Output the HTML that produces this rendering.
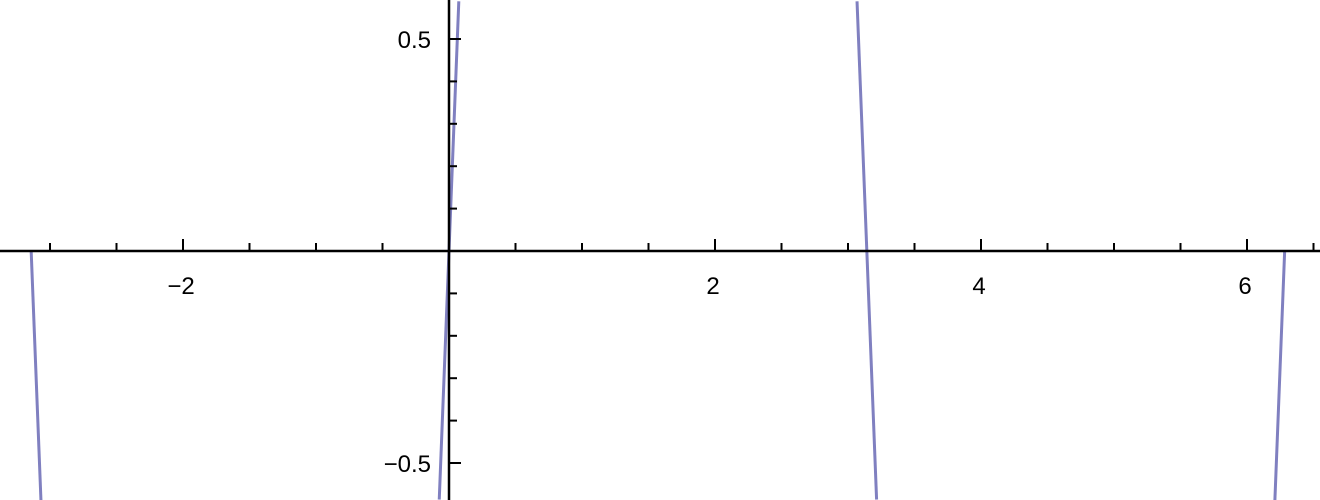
<!DOCTYPE html>
<html><head><meta charset="utf-8"><style>
html,body{margin:0;padding:0;background:#fff;}
svg{display:block;font-family:"Liberation Sans",sans-serif;}
</style></head><body>
<svg id="chart" width="1320" height="500" viewBox="0 0 1320 500">
<rect width="1320" height="500" fill="#fff"/>
<g id="curve-layer"></g>
<g id="axes"></g>
</svg>
<script>
const amplitude = [8];
const xDomain = [-Math.PI, 2 * Math.PI];
const yDomain = [-0.59, 0.59];
const xMajorTicks = [-2, 2, 4, 6];
const xTickLabels = ["\u22122", "2", "4", "6"];
const yMajorTicks = [0.5, -0.5];
const yTickLabels = ["0.5", "\u22120.5"];

const X0 = 449, XS = 133, Y0 = 251, YS = 424;
const sx = v => X0 + v * XS;
const sy = v => Y0 - v * YS;
const ns = "http://www.w3.org/2000/svg";
function mk(tag, attrs, parent) {
  const e = document.createElementNS(ns, tag);
  for (const k in attrs) e.setAttribute(k, attrs[k]);
  parent.appendChild(e);
  return e;
}
const curveLayer = document.getElementById('curve-layer');
const axes = document.getElementById('axes');

let segs = [], cur = [];
for (let i = 0; i <= 20000; i++) {
  const x = xDomain[0] + (xDomain[1] - xDomain[0]) * i / 20000;
  const y = amplitude[0] * Math.sin(x);
  if (y >= yDomain[0] && y <= yDomain[1]) cur.push(sx(x).toFixed(2) + "," + sy(y).toFixed(2));
  else if (cur.length) { segs.push(cur); cur = []; }
}
if (cur.length) segs.push(cur);
segs.forEach((s, i) => {
  const p = mk('polyline', {points: s.join(' '), fill: 'none', stroke: '#8080c0', 'stroke-width': 3}, curveLayer);
  
  
});

const xa = mk('line', {x1: 0, x2: 1320, y1: Y0, y2: Y0, stroke: '#000', 'stroke-width': 2.5}, axes);


const ya = mk('line', {x1: X0, x2: X0, y1: 0, y2: 500, stroke: '#000', 'stroke-width': 2.5}, axes);



for (let v = -3; v <= 6.5; v += 0.5) {
  if (Math.abs(v) < 1e-9) continue;
  const major = Math.abs(v - Math.round(v)) < 1e-9 && Math.round(v) % 2 === 0;
  const t = mk('line', {x1: sx(v), x2: sx(v), y1: Y0, y2: Y0 - (major ? 12 : 8), stroke: '#000', 'stroke-width': 2}, axes);
  
  
}
xMajorTicks.forEach((v, i) => {
  const t = mk('text', {x: sx(v) - 2, y: 294, 'font-size': 24, 'text-anchor': 'middle', fill: '#000'}, axes);
  t.textContent = xTickLabels[i];
  
  
});
for (let k = -5; k <= 5; k++) {
  if (k === 0) continue;
  const v = k / 10;
  const major = Math.abs(k) === 5;
  const t = mk('line', {x1: X0, x2: X0 + (major ? 12 : 8), y1: sy(v), y2: sy(v), stroke: '#000', 'stroke-width': 2}, axes);
  
  
}
yMajorTicks.forEach((v, i) => {
  const t = mk('text', {x: 431, y: sy(v) + 9, 'font-size': 24, 'text-anchor': 'end', fill: '#000'}, axes);
  t.textContent = yTickLabels[i];
  
  
});
</script>
</body></html>
